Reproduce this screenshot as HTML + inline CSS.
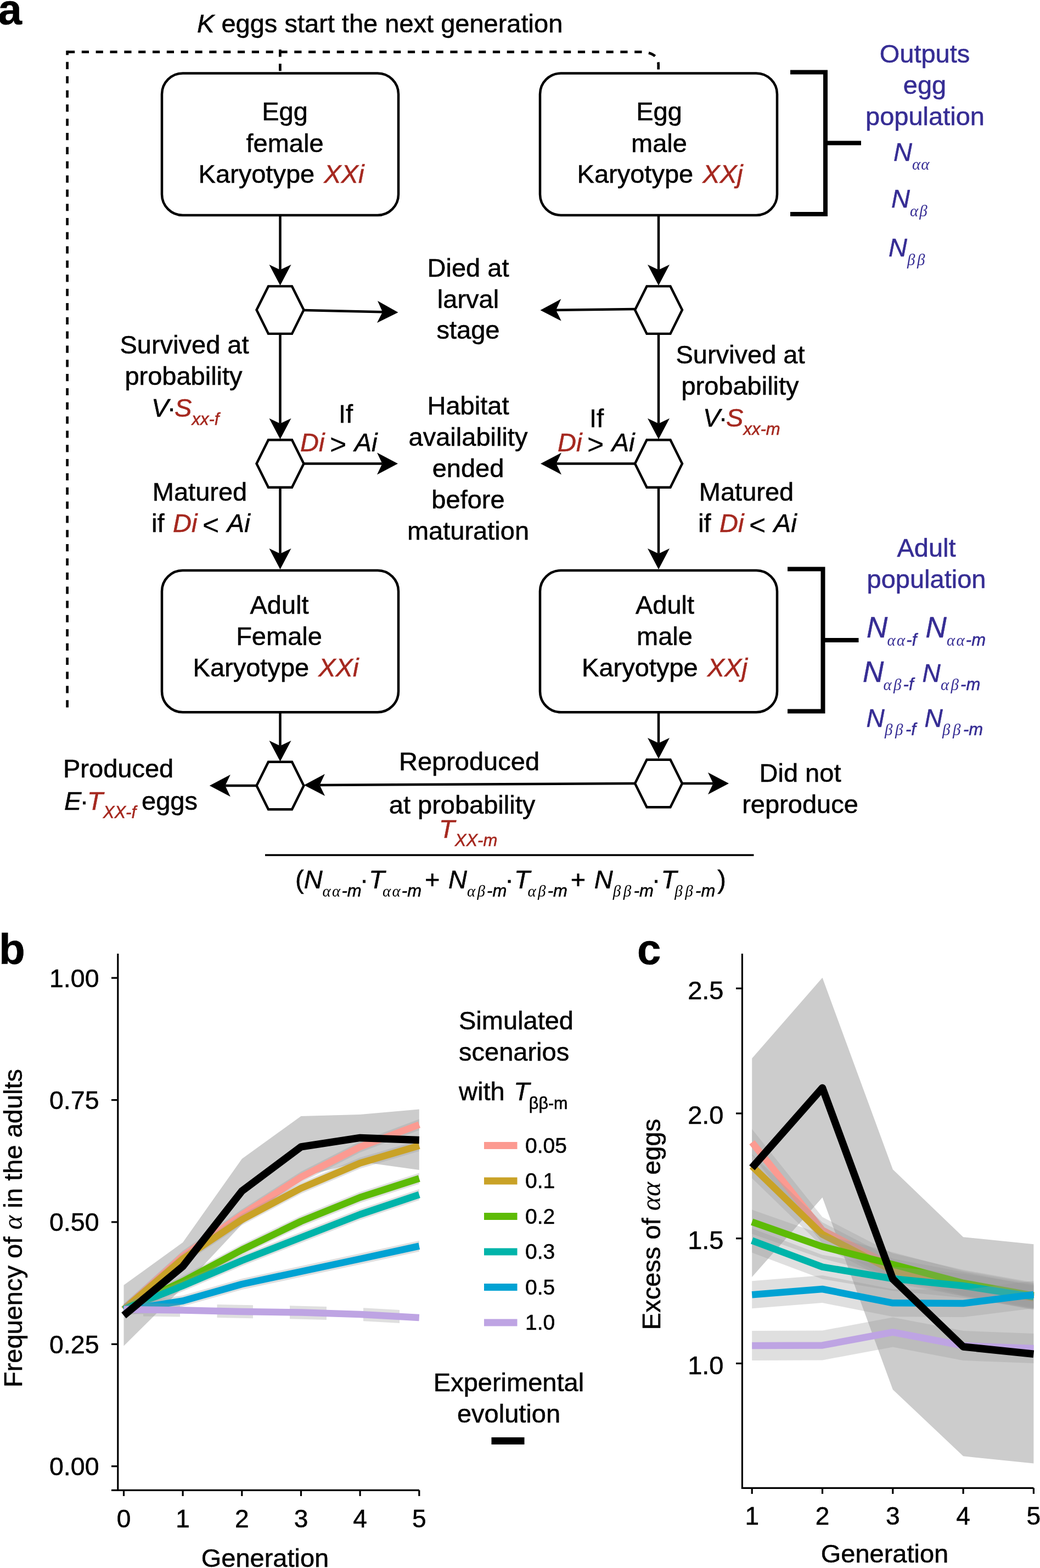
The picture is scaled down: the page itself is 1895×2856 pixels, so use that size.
<!DOCTYPE html>
<html lang="en">
<head>
<meta charset="utf-8">
<title>Figure: life-cycle model and simulated scenarios</title>
<style>
html,body{margin:0;padding:0;background:#fff;}
body{width:1895px;height:2856px;overflow:hidden;}
svg{display:block;}
svg text{font-family:"Liberation Sans", Arial, Helvetica, sans-serif;stroke:currentColor;stroke-width:0.55px;}
</style>
</head>
<body>
<svg width="1895" height="2856" viewBox="0 0 1895 2856">
<rect x="0" y="0" width="1895" height="2856" fill="#fff"/>

<g id="panel-a">
<text x="-3.5" y="44" font-size="78" text-anchor="start" fill="#000" color="#000" font-weight="bold" stroke="none">a</text>
<text x="359" y="59" font-size="47" text-anchor="start" fill="#000" color="#000" ><tspan font-style="italic">K</tspan> eggs start the next generation</text>
<path d="M122.6,92.3 V1290" fill="none" stroke="#000" stroke-width="4.7" stroke-dasharray="13.2 12.63" stroke-dashoffset="5.3"/>
<path d="M123,94.6 H1166 Q1199.7,94.6 1199.7,118 V131" fill="none" stroke="#000" stroke-width="4.7" stroke-dasharray="13.2 12.63"/>
<path d="M510.4,90.2 V131" fill="none" stroke="#000" stroke-width="4.7" stroke-dasharray="13.2 12.63"/>
<rect x="295" y="133.5" width="431" height="258.5" rx="38" ry="38" fill="#fff" stroke="#000" stroke-width="4.5"/>
<rect x="984" y="133.5" width="432" height="258.5" rx="38" ry="38" fill="#fff" stroke="#000" stroke-width="4.5"/>
<rect x="295" y="1039" width="431" height="258.29999999999995" rx="38" ry="38" fill="#fff" stroke="#000" stroke-width="4.5"/>
<rect x="984" y="1039" width="432" height="258.29999999999995" rx="38" ry="38" fill="#fff" stroke="#000" stroke-width="4.5"/>
<line x1="510.5" y1="393.0" x2="510.5" y2="491.5" stroke="#000" stroke-width="4.5"/>
<polygon points="510.5,520.0 490.5,482.0 510.5,491.5 530.5,482.0" fill="#000"/>
<line x1="510.5" y1="608.0" x2="510.5" y2="771.5" stroke="#000" stroke-width="4.5"/>
<polygon points="510.5,800.0 490.5,762.0 510.5,771.5 530.5,762.0" fill="#000"/>
<line x1="510.5" y1="889.0" x2="510.5" y2="1008.5" stroke="#000" stroke-width="4.5"/>
<polygon points="510.5,1037.0 490.5,999.0 510.5,1008.5 530.5,999.0" fill="#000"/>
<line x1="1200.0" y1="393.0" x2="1200.0" y2="491.5" stroke="#000" stroke-width="4.5"/>
<polygon points="1200.0,520.0 1180.0,482.0 1200.0,491.5 1220.0,482.0" fill="#000"/>
<line x1="1200.0" y1="608.0" x2="1200.0" y2="771.5" stroke="#000" stroke-width="4.5"/>
<polygon points="1200.0,800.0 1180.0,762.0 1200.0,771.5 1220.0,762.0" fill="#000"/>
<line x1="1200.0" y1="889.0" x2="1200.0" y2="1008.5" stroke="#000" stroke-width="4.5"/>
<polygon points="1200.0,1037.0 1180.0,999.0 1200.0,1008.5 1220.0,999.0" fill="#000"/>
<line x1="510.5" y1="1297.3" x2="510.5" y2="1358.5" stroke="#000" stroke-width="4.5"/>
<polygon points="510.5,1387.0 490.5,1349.0 510.5,1358.5 530.5,1349.0" fill="#000"/>
<line x1="1200.0" y1="1297.3" x2="1200.0" y2="1353.5" stroke="#000" stroke-width="4.5"/>
<polygon points="1200.0,1382.0 1180.0,1344.0 1200.0,1353.5 1220.0,1344.0" fill="#000"/>
<line x1="554.0" y1="565.0" x2="697.0" y2="568.3" stroke="#000" stroke-width="4.5"/>
<polygon points="725.5,569.0 687.0,588.1 697.0,568.3 688.0,548.1" fill="#000"/>
<line x1="1156.0" y1="563.0" x2="1013.0" y2="564.7" stroke="#000" stroke-width="4.5"/>
<polygon points="984.5,565.0 1022.3,544.6 1013.0,564.7 1022.7,584.6" fill="#000"/>
<line x1="554.0" y1="844.5" x2="696.5" y2="844.5" stroke="#000" stroke-width="4.5"/>
<polygon points="725.0,844.5 687.0,864.5 696.5,844.5 687.0,824.5" fill="#000"/>
<line x1="1156.0" y1="844.5" x2="1013.5" y2="844.5" stroke="#000" stroke-width="4.5"/>
<polygon points="985.0,844.5 1023.0,824.5 1013.5,844.5 1023.0,864.5" fill="#000"/>
<line x1="467.0" y1="1431.0" x2="410.3" y2="1431.0" stroke="#000" stroke-width="4.5"/>
<polygon points="381.8,1431.0 419.8,1411.0 410.3,1431.0 419.8,1451.0" fill="#000"/>
<line x1="1156.0" y1="1427.0" x2="582.5" y2="1429.9" stroke="#000" stroke-width="4.5"/>
<polygon points="554.0,1430.0 591.9,1409.8 582.5,1429.9 592.1,1449.8" fill="#000"/>
<line x1="1244.0" y1="1427.0" x2="1299.5" y2="1427.0" stroke="#000" stroke-width="4.5"/>
<polygon points="1328.0,1427.0 1290.0,1447.0 1299.5,1427.0 1290.0,1407.0" fill="#000"/>
<polygon points="467.5,564.6 489.0,521.4 532.0,521.4 553.5,564.6 532.0,607.9 489.0,607.9" fill="#fff" stroke="#000" stroke-width="4.4" stroke-linejoin="miter"/>
<polygon points="1157.0,564.6 1178.5,521.4 1221.5,521.4 1243.0,564.6 1221.5,607.9 1178.5,607.9" fill="#fff" stroke="#000" stroke-width="4.4" stroke-linejoin="miter"/>
<polygon points="467.5,844.5 489.0,801.2 532.0,801.2 553.5,844.5 532.0,887.8 489.0,887.8" fill="#fff" stroke="#000" stroke-width="4.4" stroke-linejoin="miter"/>
<polygon points="1157.0,844.5 1178.5,801.2 1221.5,801.2 1243.0,844.5 1221.5,887.8 1178.5,887.8" fill="#fff" stroke="#000" stroke-width="4.4" stroke-linejoin="miter"/>
<polygon points="467.5,1431.0 489.0,1387.8 532.0,1387.8 553.5,1431.0 532.0,1474.2 489.0,1474.2" fill="#fff" stroke="#000" stroke-width="4.4" stroke-linejoin="miter"/>
<polygon points="1157.0,1427.0 1178.5,1383.8 1221.5,1383.8 1243.0,1427.0 1221.5,1470.2 1178.5,1470.2" fill="#fff" stroke="#000" stroke-width="4.4" stroke-linejoin="miter"/>
<line x1="483" y1="1557.5" x2="1373.5" y2="1557.5" stroke="#000" stroke-width="3.6"/>
<path d="M1440,131.5 L1504,131.5 L1504,390 L1440,390 M1504,260.5 L1569,260.5" fill="none" stroke="#000" stroke-width="8"/>
<path d="M1435,1036.5 L1499.5,1036.5 L1499.5,1295.5 L1435,1295.5 M1499.5,1166 L1564.5,1166" fill="none" stroke="#000" stroke-width="8"/>
<text x="519" y="219" font-size="47" text-anchor="middle" fill="#000" color="#000" >Egg</text>
<text x="519" y="276.7" font-size="47" text-anchor="middle" fill="#000" color="#000" >female</text>
<text x="512.5" y="333" font-size="47" text-anchor="middle" fill="#000" color="#000" >Karyotype <tspan dx="4" font-size="1">&#8203;</tspan><tspan font-style="italic" fill="#a5281f" color="#a5281f">XXi</tspan></text>
<text x="1201" y="218.5" font-size="47" text-anchor="middle" fill="#000" color="#000" >Egg</text>
<text x="1201" y="277" font-size="47" text-anchor="middle" fill="#000" color="#000" >male</text>
<text x="1202.5" y="333" font-size="47" text-anchor="middle" fill="#000" color="#000" >Karyotype <tspan dx="4" font-size="1">&#8203;</tspan><tspan font-style="italic" fill="#a5281f" color="#a5281f">XXj</tspan></text>
<text x="509" y="1117.6" font-size="47" text-anchor="middle" fill="#000" color="#000" >Adult</text>
<text x="508.5" y="1174.5" font-size="47" text-anchor="middle" fill="#000" color="#000" >Female</text>
<text x="502.5" y="1232.2" font-size="47" text-anchor="middle" fill="#000" color="#000" >Karyotype <tspan dx="4" font-size="1">&#8203;</tspan><tspan font-style="italic" fill="#a5281f" color="#a5281f">XXi</tspan></text>
<text x="1211.5" y="1117.6" font-size="47" text-anchor="middle" fill="#000" color="#000" >Adult</text>
<text x="1211" y="1174.5" font-size="47" text-anchor="middle" fill="#000" color="#000" >male</text>
<text x="1211" y="1232.2" font-size="47" text-anchor="middle" fill="#000" color="#000" >Karyotype <tspan dx="4" font-size="1">&#8203;</tspan><tspan font-style="italic" fill="#a5281f" color="#a5281f">XXj</tspan></text>
<text x="853" y="504" font-size="47" text-anchor="middle" fill="#000" color="#000" >Died at</text>
<text x="853" y="561" font-size="47" text-anchor="middle" fill="#000" color="#000" >larval</text>
<text x="853" y="617" font-size="47" text-anchor="middle" fill="#000" color="#000" >stage</text>
<text x="853" y="755" font-size="47" text-anchor="middle" fill="#000" color="#000" >Habitat</text>
<text x="853" y="812" font-size="47" text-anchor="middle" fill="#000" color="#000" >availability</text>
<text x="853" y="869" font-size="47" text-anchor="middle" fill="#000" color="#000" >ended</text>
<text x="853" y="926" font-size="47" text-anchor="middle" fill="#000" color="#000" >before</text>
<text x="853" y="982.7" font-size="47" text-anchor="middle" fill="#000" color="#000" >maturation</text>
<text x="336" y="644" font-size="47" text-anchor="middle" fill="#000" color="#000" >Survived at</text>
<text x="334.5" y="701" font-size="47" text-anchor="middle" fill="#000" color="#000" >probability</text>
<text x="276" y="759" font-size="47" text-anchor="start" fill="#000" color="#000" ><tspan font-style="italic">V</tspan><tspan dx="-2.5">·</tspan><tspan dx="-2.5" font-size="1">&#8203;</tspan><tspan font-style="italic" fill="#a5281f" color="#a5281f">S</tspan><tspan dx="0" dy="15" font-size="31" font-style="italic" fill="#a5281f" color="#a5281f">xx-f</tspan><tspan dy="-15" font-size="1">&#8203;</tspan></text>
<text x="1349" y="662" font-size="47" text-anchor="middle" fill="#000" color="#000" >Survived at</text>
<text x="1348.5" y="719" font-size="47" text-anchor="middle" fill="#000" color="#000" >probability</text>
<text x="1281" y="777" font-size="47" text-anchor="start" fill="#000" color="#000" ><tspan font-style="italic">V</tspan><tspan dx="-2.5">·</tspan><tspan dx="-2.5" font-size="1">&#8203;</tspan><tspan font-style="italic" fill="#a5281f" color="#a5281f">S</tspan><tspan dx="0" dy="15" font-size="31" font-style="italic" fill="#a5281f" color="#a5281f">xx-m</tspan><tspan dy="-15" font-size="1">&#8203;</tspan></text>
<text x="630" y="770" font-size="47" text-anchor="middle" fill="#000" color="#000" >If</text>
<text x="547" y="822" font-size="47" text-anchor="start" fill="#000" color="#000" ><tspan font-style="italic" fill="#a5281f" color="#a5281f">Di</tspan><tspan font-size="52" dx="9.5" dy="5" stroke-width="0.2">&gt;</tspan><tspan dx="14.5" dy="-5" font-size="1">&#8203;</tspan><tspan font-style="italic">Ai</tspan></text>
<text x="1087" y="778" font-size="47" text-anchor="middle" fill="#000" color="#000" >If</text>
<text x="1016" y="822" font-size="47" text-anchor="start" fill="#000" color="#000" ><tspan font-style="italic" fill="#a5281f" color="#a5281f">Di</tspan><tspan font-size="52" dx="9.5" dy="5" stroke-width="0.2">&gt;</tspan><tspan dx="14.5" dy="-5" font-size="1">&#8203;</tspan><tspan font-style="italic">Ai</tspan></text>
<text x="364" y="912" font-size="47" text-anchor="middle" fill="#000" color="#000" >Matured</text>
<text x="276" y="969" font-size="47" text-anchor="start" fill="#000" color="#000" >if <tspan dx="2.5" font-size="1">&#8203;</tspan><tspan font-style="italic" fill="#a5281f" color="#a5281f">Di</tspan><tspan font-size="52" dx="9.5" dy="5" stroke-width="0.2">&lt;</tspan><tspan dx="14.5" dy="-5" font-size="1">&#8203;</tspan><tspan font-style="italic">Ai</tspan></text>
<text x="1360" y="912" font-size="47" text-anchor="middle" fill="#000" color="#000" >Matured</text>
<text x="1272" y="969" font-size="47" text-anchor="start" fill="#000" color="#000" >if <tspan dx="2.5" font-size="1">&#8203;</tspan><tspan font-style="italic" fill="#a5281f" color="#a5281f">Di</tspan><tspan font-size="52" dx="9.5" dy="5" stroke-width="0.2">&lt;</tspan><tspan dx="14.5" dy="-5" font-size="1">&#8203;</tspan><tspan font-style="italic">Ai</tspan></text>
<text x="115" y="1416" font-size="47" text-anchor="start" fill="#000" color="#000" >Produced</text>
<text x="117" y="1475" font-size="47" text-anchor="start" fill="#000" color="#000" ><tspan font-style="italic">E</tspan><tspan dx="-2.5">·</tspan><tspan dx="-2.5" font-size="1">&#8203;</tspan><tspan font-style="italic" fill="#a5281f" color="#a5281f">T</tspan><tspan dx="0" dy="15" font-size="31" font-style="italic" fill="#a5281f" color="#a5281f">XX-f</tspan><tspan dy="-15" font-size="1">&#8203;</tspan><tspan dx="10">eggs</tspan></text>
<text x="855" y="1403" font-size="47" text-anchor="middle" fill="#000" color="#000" >Reproduced</text>
<text x="842" y="1482" font-size="47" text-anchor="middle" fill="#000" color="#000" >at probability</text>
<text x="800" y="1526" font-size="47" text-anchor="start" fill="#000" color="#000" ><tspan font-style="italic" fill="#a5281f" color="#a5281f">T</tspan><tspan dx="0" dy="15" font-size="31" font-style="italic" fill="#a5281f" color="#a5281f">XX-m</tspan><tspan dy="-15" font-size="1">&#8203;</tspan></text>
<text x="1458" y="1424" font-size="47" text-anchor="middle" fill="#000" color="#000" >Did not</text>
<text x="1458" y="1481" font-size="47" text-anchor="middle" fill="#000" color="#000" >reproduce</text>
<text x="538" y="1618" font-size="47" text-anchor="start" fill="#000" color="#000" >(<tspan font-style="italic">N</tspan><tspan dx="0" dy="15" font-size="31" font-style="italic"><tspan font-family='"Liberation Serif", "DejaVu Serif", serif' font-style="italic" font-size="29" letter-spacing="2.2" stroke="none">αα</tspan>-m</tspan><tspan dy="-15" font-size="1">&#8203;</tspan><tspan dx="-3">·</tspan><tspan dx="1" font-size="1">&#8203;</tspan><tspan font-style="italic">T</tspan><tspan dx="-4" dy="15" font-size="31" font-style="italic"><tspan font-family='"Liberation Serif", "DejaVu Serif", serif' font-style="italic" font-size="29" letter-spacing="2.2" stroke="none">αα</tspan>-m</tspan><tspan dy="-15" font-size="1">&#8203;</tspan><tspan dx="6">+ </tspan><tspan dx="2.5" font-size="1">&#8203;</tspan><tspan font-style="italic">N</tspan><tspan dx="0" dy="15" font-size="31" font-style="italic"><tspan font-family='"Liberation Serif", "DejaVu Serif", serif' font-style="italic" font-size="29" letter-spacing="3.2" stroke="none">αβ</tspan>-m</tspan><tspan dy="-15" font-size="1">&#8203;</tspan><tspan dx="-3">·</tspan><tspan dx="1" font-size="1">&#8203;</tspan><tspan font-style="italic">T</tspan><tspan dx="-4" dy="15" font-size="31" font-style="italic"><tspan font-family='"Liberation Serif", "DejaVu Serif", serif' font-style="italic" font-size="29" letter-spacing="3.2" stroke="none">αβ</tspan>-m</tspan><tspan dy="-15" font-size="1">&#8203;</tspan><tspan dx="6">+ </tspan><tspan dx="2.5" font-size="1">&#8203;</tspan><tspan font-style="italic">N</tspan><tspan dx="0" dy="15" font-size="31" font-style="italic"><tspan font-family='"Liberation Serif", "DejaVu Serif", serif' font-style="italic" font-size="29" letter-spacing="4.5" stroke="none">ββ</tspan>-m</tspan><tspan dy="-15" font-size="1">&#8203;</tspan><tspan dx="-3">·</tspan><tspan dx="1" font-size="1">&#8203;</tspan><tspan font-style="italic">T</tspan><tspan dx="-4" dy="15" font-size="31" font-style="italic"><tspan font-family='"Liberation Serif", "DejaVu Serif", serif' font-style="italic" font-size="29" letter-spacing="4.5" stroke="none">ββ</tspan>-m</tspan><tspan dy="-15" font-size="1">&#8203;</tspan><tspan dx="4">)</tspan></text>
<text x="1685" y="113.5" font-size="47" text-anchor="middle" fill="#362d94" color="#362d94" >Outputs</text>
<text x="1685" y="170.5" font-size="47" text-anchor="middle" fill="#362d94" color="#362d94" >egg</text>
<text x="1685.5" y="227.5" font-size="47" text-anchor="middle" fill="#362d94" color="#362d94" >population</text>
<text x="1628" y="293" font-size="47" text-anchor="start" fill="#362d94" color="#362d94" ><tspan font-style="italic">N</tspan><tspan dx="0" dy="16" font-size="31" font-style="italic"><tspan font-family='"Liberation Serif", "DejaVu Serif", serif' font-style="italic" font-size="29" letter-spacing="1" stroke="none">αα</tspan></tspan><tspan dy="-16" font-size="1">&#8203;</tspan></text>
<text x="1624" y="377.7" font-size="47" text-anchor="start" fill="#362d94" color="#362d94" ><tspan font-style="italic">N</tspan><tspan dx="0" dy="16" font-size="31" font-style="italic"><tspan font-family='"Liberation Serif", "DejaVu Serif", serif' font-style="italic" font-size="29" letter-spacing="2" stroke="none">αβ</tspan></tspan><tspan dy="-16" font-size="1">&#8203;</tspan></text>
<text x="1619" y="466.5" font-size="47" text-anchor="start" fill="#362d94" color="#362d94" ><tspan font-style="italic">N</tspan><tspan dx="0" dy="16" font-size="31" font-style="italic"><tspan font-family='"Liberation Serif", "DejaVu Serif", serif' font-style="italic" font-size="29" letter-spacing="3.5" stroke="none">ββ</tspan></tspan><tspan dy="-16" font-size="1">&#8203;</tspan></text>
<text x="1688" y="1014" font-size="47" text-anchor="middle" fill="#362d94" color="#362d94" >Adult</text>
<text x="1688" y="1071" font-size="47" text-anchor="middle" fill="#362d94" color="#362d94" >population</text>
<text x="1579" y="1161" font-size="53" text-anchor="start" fill="#362d94" color="#362d94" ><tspan font-style="italic">N</tspan></text>
<text x="1616.5" y="1176" font-size="31" text-anchor="start" fill="#362d94" color="#362d94" font-style="italic"><tspan font-family='"Liberation Serif", "DejaVu Serif", serif' font-style="italic" font-size="29" letter-spacing="2.2" stroke="none">αα</tspan>-f</text>
<text x="1686.5" y="1161" font-size="53" text-anchor="start" fill="#362d94" color="#362d94" ><tspan font-style="italic">N</tspan></text>
<text x="1725" y="1176" font-size="31" text-anchor="start" fill="#362d94" color="#362d94" font-style="italic"><tspan font-family='"Liberation Serif", "DejaVu Serif", serif' font-style="italic" font-size="29" letter-spacing="2.2" stroke="none">αα</tspan>-m</text>
<text x="1572" y="1242" font-size="53" text-anchor="start" fill="#362d94" color="#362d94" ><tspan font-style="italic">N</tspan></text>
<text x="1609.5" y="1257" font-size="31" text-anchor="start" fill="#362d94" color="#362d94" font-style="italic"><tspan font-family='"Liberation Serif", "DejaVu Serif", serif' font-style="italic" font-size="29" letter-spacing="3.2" stroke="none">αβ</tspan>-f</text>
<text x="1680.5" y="1242" font-size="46" text-anchor="start" fill="#362d94" color="#362d94" ><tspan font-style="italic">N</tspan></text>
<text x="1714" y="1257" font-size="31" text-anchor="start" fill="#362d94" color="#362d94" font-style="italic"><tspan font-family='"Liberation Serif", "DejaVu Serif", serif' font-style="italic" font-size="29" letter-spacing="3.2" stroke="none">αβ</tspan>-m</text>
<text x="1578.5" y="1323.5" font-size="46" text-anchor="start" fill="#362d94" color="#362d94" ><tspan font-style="italic">N</tspan></text>
<text x="1612" y="1338.5" font-size="31" text-anchor="start" fill="#362d94" color="#362d94" font-style="italic"><tspan font-family='"Liberation Serif", "DejaVu Serif", serif' font-style="italic" font-size="29" letter-spacing="4.5" stroke="none">ββ</tspan>-f</text>
<text x="1684.5" y="1323.5" font-size="46" text-anchor="start" fill="#362d94" color="#362d94" ><tspan font-style="italic">N</tspan></text>
<text x="1717" y="1338.5" font-size="31" text-anchor="start" fill="#362d94" color="#362d94" font-style="italic"><tspan font-family='"Liberation Serif", "DejaVu Serif", serif' font-style="italic" font-size="29" letter-spacing="4.5" stroke="none">ββ</tspan>-m</text>
</g>
<g id="panel-b">
<text x="-2" y="1756" font-size="78" text-anchor="start" fill="#000" color="#000" font-weight="bold" stroke="none">b</text>
<path d="M214.8,1737 L214.8,2714.3 M203,2714.3 L763.8,2714.3" fill="none" stroke="#000" stroke-width="3.2"/>
<line x1="203" x2="214.8" y1="2670.7" y2="2670.7" stroke="#000" stroke-width="3.2"/>
<text x="180.5" y="2687.2" font-size="46.5" text-anchor="end" fill="#000" color="#000" >0.00</text>
<line x1="203" x2="214.8" y1="2448.3" y2="2448.3" stroke="#000" stroke-width="3.2"/>
<text x="180.5" y="2464.825" font-size="46.5" text-anchor="end" fill="#000" color="#000" >0.25</text>
<line x1="203" x2="214.8" y1="2225.9" y2="2225.9" stroke="#000" stroke-width="3.2"/>
<text x="180.5" y="2242.45" font-size="46.5" text-anchor="end" fill="#000" color="#000" >0.50</text>
<line x1="203" x2="214.8" y1="2003.6" y2="2003.6" stroke="#000" stroke-width="3.2"/>
<text x="180.5" y="2020.0749999999998" font-size="46.5" text-anchor="end" fill="#000" color="#000" >0.75</text>
<line x1="203" x2="214.8" y1="1781.2" y2="1781.2" stroke="#000" stroke-width="3.2"/>
<text x="180.5" y="1797.6999999999998" font-size="46.5" text-anchor="end" fill="#000" color="#000" >1.00</text>
<line x1="225.5" x2="225.5" y1="2714.3" y2="2725" stroke="#000" stroke-width="3.2"/>
<text x="225.5" y="2782" font-size="46" text-anchor="middle" fill="#000" color="#000" >0</text>
<line x1="333.1" x2="333.1" y1="2714.3" y2="2725" stroke="#000" stroke-width="3.2"/>
<text x="333.15" y="2782" font-size="46" text-anchor="middle" fill="#000" color="#000" >1</text>
<line x1="440.8" x2="440.8" y1="2714.3" y2="2725" stroke="#000" stroke-width="3.2"/>
<text x="440.8" y="2782" font-size="46" text-anchor="middle" fill="#000" color="#000" >2</text>
<line x1="548.5" x2="548.5" y1="2714.3" y2="2725" stroke="#000" stroke-width="3.2"/>
<text x="548.45" y="2782" font-size="46" text-anchor="middle" fill="#000" color="#000" >3</text>
<line x1="656.1" x2="656.1" y1="2714.3" y2="2725" stroke="#000" stroke-width="3.2"/>
<text x="656.1" y="2782" font-size="46" text-anchor="middle" fill="#000" color="#000" >4</text>
<line x1="763.8" x2="763.8" y1="2714.3" y2="2725" stroke="#000" stroke-width="3.2"/>
<text x="763.75" y="2782" font-size="46" text-anchor="middle" fill="#000" color="#000" >5</text>
<text x="483" y="2853.7" font-size="47" text-anchor="middle" fill="#000" color="#000" >Generation</text>
<text transform="translate(40,2237) rotate(-90)" font-size="47" text-anchor="middle">Frequency of <tspan font-family='"Liberation Serif", "DejaVu Serif", serif' font-style="italic" stroke="none" font-size="50">α</tspan> in the adults</text>
<polygon points="225.5,2340.8 333.1,2263.0 440.8,2110.7 548.5,2033.0 656.1,2030.0 763.8,2020.4 763.8,2131.0 656.1,2116.0 548.5,2144.0 440.8,2230.0 333.1,2345.0 225.5,2451.5" fill="#cccccc" fill-opacity="1"/>
<polygon points="225.5,2375.0 333.1,2278.0 440.8,2202.8 548.5,2134.0 656.1,2079.0 763.8,2038.5 763.8,2058.5 656.1,2099.0 548.5,2154.0 440.8,2222.8 333.1,2298.0 225.5,2395.0" fill="#999999" fill-opacity="0.31"/>
<polyline points="225.5,2385.0 333.1,2288.0 440.8,2212.8 548.5,2144.0 656.1,2089.0 763.8,2048.5" fill="none" stroke="#fc9a91" stroke-width="12.5" stroke-linejoin="round" stroke-linecap="butt"/>
<polygon points="225.5,2375.0 333.1,2283.0 440.8,2211.4 548.5,2154.3 656.1,2108.4 763.8,2076.7 763.8,2096.7 656.1,2128.4 548.5,2174.3 440.8,2231.4 333.1,2303.0 225.5,2395.0" fill="#999999" fill-opacity="0.31"/>
<polyline points="225.5,2385.0 333.1,2293.0 440.8,2221.4 548.5,2164.3 656.1,2118.4 763.8,2086.7" fill="none" stroke="#c9a227" stroke-width="12.5" stroke-linejoin="round" stroke-linecap="butt"/>
<polygon points="225.5,2375.0 333.1,2324.0 440.8,2266.5 548.5,2214.5 656.1,2171.0 763.8,2136.5 763.8,2156.5 656.1,2191.0 548.5,2234.5 440.8,2286.5 333.1,2344.0 225.5,2395.0" fill="#999999" fill-opacity="0.31"/>
<polyline points="225.5,2385.0 333.1,2334.0 440.8,2276.5 548.5,2224.5 656.1,2181.0 763.8,2146.5" fill="none" stroke="#5dbb06" stroke-width="12.5" stroke-linejoin="round" stroke-linecap="butt"/>
<polygon points="225.5,2375.0 333.1,2332.0 440.8,2286.0 548.5,2244.0 656.1,2202.0 763.8,2166.0 763.8,2186.0 656.1,2222.0 548.5,2264.0 440.8,2306.0 333.1,2352.0 225.5,2395.0" fill="#999999" fill-opacity="0.31"/>
<polyline points="225.5,2385.0 333.1,2342.0 440.8,2296.0 548.5,2254.0 656.1,2212.0 763.8,2176.0" fill="none" stroke="#00b4aa" stroke-width="12.5" stroke-linejoin="round" stroke-linecap="butt"/>
<polygon points="225.5,2376.7 333.1,2359.5 440.8,2329.0 548.5,2306.0 656.1,2283.0 763.8,2259.7 763.8,2279.7 656.1,2303.0 548.5,2326.0 440.8,2349.0 333.1,2379.5 225.5,2396.7" fill="#999999" fill-opacity="0.31"/>
<polyline points="225.5,2386.7 333.1,2369.5 440.8,2339.0 548.5,2316.0 656.1,2293.0 763.8,2269.7" fill="none" stroke="#00a2d3" stroke-width="12.5" stroke-linejoin="round" stroke-linecap="butt"/>
<polygon points="225.5,2377.0 261.0,2377.5 261.0,2393.5 225.5,2393.0" fill="#999999" fill-opacity="0.31"/>
<polygon points="261.0,2373.5 328.0,2374.4 328.0,2398.4 261.0,2397.5" fill="#999999" fill-opacity="0.31"/>
<polygon points="395.5,2375.9 461.0,2377.3 461.0,2401.3 395.5,2399.9" fill="#999999" fill-opacity="0.31"/>
<polygon points="528.0,2378.2 595.0,2380.0 595.0,2404.0 528.0,2402.2" fill="#999999" fill-opacity="0.31"/>
<polygon points="662.0,2382.3 728.0,2386.0 728.0,2410.0 662.0,2406.3" fill="#999999" fill-opacity="0.31"/>
<polyline points="225.5,2385.0 333.1,2386.5 440.8,2389.0 548.5,2390.5 656.1,2394.0 763.8,2400.0" fill="none" stroke="#bea4e3" stroke-width="12.5" stroke-linejoin="round" stroke-linecap="butt"/>
<polyline points="225.5,2396.0 333.1,2306.6 440.8,2169.4 548.5,2088.8 656.1,2072.4 763.8,2076.5" fill="none" stroke="#000" stroke-width="13.5" stroke-linejoin="round" stroke-linecap="butt"/>
<text x="836" y="1875" font-size="47" text-anchor="start" fill="#000" color="#000" >Simulated</text>
<text x="836" y="1932" font-size="47" text-anchor="start" fill="#000" color="#000" >scenarios</text>
<text x="836" y="2004" font-size="47" text-anchor="start" fill="#000" color="#000" >with  <tspan dx="3.5" font-size="1">&#8203;</tspan><tspan font-style="italic">T</tspan><tspan dx="-1" dy="16" font-size="30.5">ββ-m</tspan><tspan dy="-16" font-size="1">&#8203;</tspan></text>
<rect x="882" y="2080.0" width="60.5" height="13" fill="#fc9a91"/>
<text x="957" y="2099.5" font-size="39" text-anchor="start" fill="#000" color="#000" >0.05</text>
<rect x="882" y="2144.5" width="60.5" height="13" fill="#c9a227"/>
<text x="957" y="2164.0" font-size="39" text-anchor="start" fill="#000" color="#000" >0.1</text>
<rect x="882" y="2209.0" width="60.5" height="13" fill="#5dbb06"/>
<text x="957" y="2228.5" font-size="39" text-anchor="start" fill="#000" color="#000" >0.2</text>
<rect x="882" y="2273.5" width="60.5" height="13" fill="#00b4aa"/>
<text x="957" y="2293.0" font-size="39" text-anchor="start" fill="#000" color="#000" >0.3</text>
<rect x="882" y="2338.0" width="60.5" height="13" fill="#00a2d3"/>
<text x="957" y="2357.5" font-size="39" text-anchor="start" fill="#000" color="#000" >0.5</text>
<rect x="882" y="2402.5" width="60.5" height="13" fill="#bea4e3"/>
<text x="957" y="2422.0" font-size="39" text-anchor="start" fill="#000" color="#000" >1.0</text>
<text x="927" y="2534" font-size="47" text-anchor="middle" fill="#000" color="#000" >Experimental</text>
<text x="927" y="2591" font-size="47" text-anchor="middle" fill="#000" color="#000" >evolution</text>
<rect x="895.5" y="2618" width="60" height="13" fill="#000"/>
</g>
<g id="panel-c">
<text x="1161" y="1756" font-size="78" text-anchor="start" fill="#000" color="#000" font-weight="bold" stroke="none">c</text>
<path d="M1352.4,1737 L1352.4,2711.9 M1350.8,2710.3 L1883.3,2710.3" fill="none" stroke="#000" stroke-width="3.2"/>
<line x1="1341" x2="1352.4" y1="2483.4" y2="2483.4" stroke="#000" stroke-width="3.2"/>
<text x="1318.5" y="2502.7000000000003" font-size="47" text-anchor="end" fill="#000" color="#000" >1.0</text>
<line x1="1341" x2="1352.4" y1="2255.7" y2="2255.7" stroke="#000" stroke-width="3.2"/>
<text x="1318.5" y="2275.0000000000005" font-size="47" text-anchor="end" fill="#000" color="#000" >1.5</text>
<line x1="1341" x2="1352.4" y1="2028.0" y2="2028.0" stroke="#000" stroke-width="3.2"/>
<text x="1318.5" y="2047.3" font-size="47" text-anchor="end" fill="#000" color="#000" >2.0</text>
<line x1="1341" x2="1352.4" y1="1800.3" y2="1800.3" stroke="#000" stroke-width="3.2"/>
<text x="1318.5" y="1819.6000000000001" font-size="47" text-anchor="end" fill="#000" color="#000" >2.5</text>
<line x1="1370.2" x2="1370.2" y1="2710.3" y2="2721" stroke="#000" stroke-width="3.2"/>
<text x="1370.2" y="2777" font-size="46" text-anchor="middle" fill="#000" color="#000" >1</text>
<line x1="1498.5" x2="1498.5" y1="2710.3" y2="2721" stroke="#000" stroke-width="3.2"/>
<text x="1498.5" y="2777" font-size="46" text-anchor="middle" fill="#000" color="#000" >2</text>
<line x1="1626.8" x2="1626.8" y1="2710.3" y2="2721" stroke="#000" stroke-width="3.2"/>
<text x="1626.8000000000002" y="2777" font-size="46" text-anchor="middle" fill="#000" color="#000" >3</text>
<line x1="1755.1" x2="1755.1" y1="2710.3" y2="2721" stroke="#000" stroke-width="3.2"/>
<text x="1755.1000000000001" y="2777" font-size="46" text-anchor="middle" fill="#000" color="#000" >4</text>
<line x1="1883.4" x2="1883.4" y1="2710.3" y2="2721" stroke="#000" stroke-width="3.2"/>
<text x="1883.4" y="2777" font-size="46" text-anchor="middle" fill="#000" color="#000" >5</text>
<text x="1612" y="2845.5" font-size="47" text-anchor="middle" fill="#000" color="#000" >Generation</text>
<text transform="translate(1202.5,2230) rotate(-90)" font-size="47" text-anchor="middle">Excess of <tspan font-family='"Liberation Serif", "DejaVu Serif", serif' font-style="italic" stroke="none" font-size="50">αα</tspan> eggs</text>
<polygon points="1370.2,1927.7 1498.5,1780.8 1626.8,2130.0 1755.1,2253.3 1883.4,2266.2 1883.4,2665.6 1755.1,2652.3 1626.8,2531.0 1498.5,2181.0 1370.2,2326.0" fill="#cccccc" fill-opacity="1"/>
<polygon points="1370.2,2056.6 1498.5,2216.8 1626.8,2283.0 1755.1,2313.0 1883.4,2336.0 1883.4,2384.0 1755.1,2361.0 1626.8,2331.0 1498.5,2264.8 1370.2,2104.6" fill="#999999" fill-opacity="0.31"/>
<polyline points="1370.2,2080.6 1498.5,2240.8 1626.8,2307.0 1755.1,2337.0 1883.4,2360.0" fill="none" stroke="#fc9a91" stroke-width="12.5" stroke-linejoin="round" stroke-linecap="butt"/>
<polygon points="1370.2,2102.0 1498.5,2226.4 1626.8,2292.5 1755.1,2317.0 1883.4,2342.0 1883.4,2386.0 1755.1,2361.0 1626.8,2336.5 1498.5,2270.4 1370.2,2146.0" fill="#999999" fill-opacity="0.31"/>
<polyline points="1370.2,2124.0 1498.5,2248.4 1626.8,2314.5 1755.1,2339.0 1883.4,2364.0" fill="none" stroke="#c9a227" stroke-width="12.5" stroke-linejoin="round" stroke-linecap="butt"/>
<polygon points="1370.2,2203.6 1498.5,2248.6 1626.8,2281.0 1755.1,2315.0 1883.4,2338.0 1883.4,2382.0 1755.1,2359.0 1626.8,2325.0 1498.5,2292.6 1370.2,2247.6" fill="#999999" fill-opacity="0.31"/>
<polyline points="1370.2,2225.6 1498.5,2270.6 1626.8,2303.0 1755.1,2337.0 1883.4,2360.0" fill="none" stroke="#5dbb06" stroke-width="12.5" stroke-linejoin="round" stroke-linecap="butt"/>
<polygon points="1370.2,2237.6 1498.5,2285.7 1626.8,2307.0 1755.1,2320.0 1883.4,2340.0 1883.4,2384.0 1755.1,2364.0 1626.8,2351.0 1498.5,2329.7 1370.2,2281.6" fill="#999999" fill-opacity="0.31"/>
<polyline points="1370.2,2259.6 1498.5,2307.7 1626.8,2329.0 1755.1,2342.0 1883.4,2362.0" fill="none" stroke="#00b4aa" stroke-width="12.5" stroke-linejoin="round" stroke-linecap="butt"/>
<polygon points="1370.2,2333.2 1498.5,2323.0 1626.8,2348.3 1755.1,2349.0 1883.4,2333.0 1883.4,2383.0 1755.1,2399.0 1626.8,2398.3 1498.5,2373.0 1370.2,2383.2" fill="#999999" fill-opacity="0.31"/>
<polyline points="1370.2,2358.2 1498.5,2348.0 1626.8,2373.3 1755.1,2374.0 1883.4,2358.0" fill="none" stroke="#00a2d3" stroke-width="12.5" stroke-linejoin="round" stroke-linecap="butt"/>
<polygon points="1370.2,2424.0 1498.5,2423.4 1626.8,2399.5 1755.1,2424.0 1883.4,2429.0 1883.4,2483.0 1755.1,2478.0 1626.8,2453.5 1498.5,2477.4 1370.2,2478.0" fill="#999999" fill-opacity="0.31"/>
<polyline points="1370.2,2451.0 1498.5,2450.4 1626.8,2426.5 1755.1,2451.0 1883.4,2456.0" fill="none" stroke="#bea4e3" stroke-width="12.5" stroke-linejoin="round" stroke-linecap="butt"/>
<polyline points="1370.2,2127.0 1498.5,1981.5 1626.8,2329.7 1755.1,2453.0 1883.4,2466.3" fill="none" stroke="#000" stroke-width="13.5" stroke-linejoin="round" stroke-linecap="butt"/>
</g>
</svg>
</body>
</html>
